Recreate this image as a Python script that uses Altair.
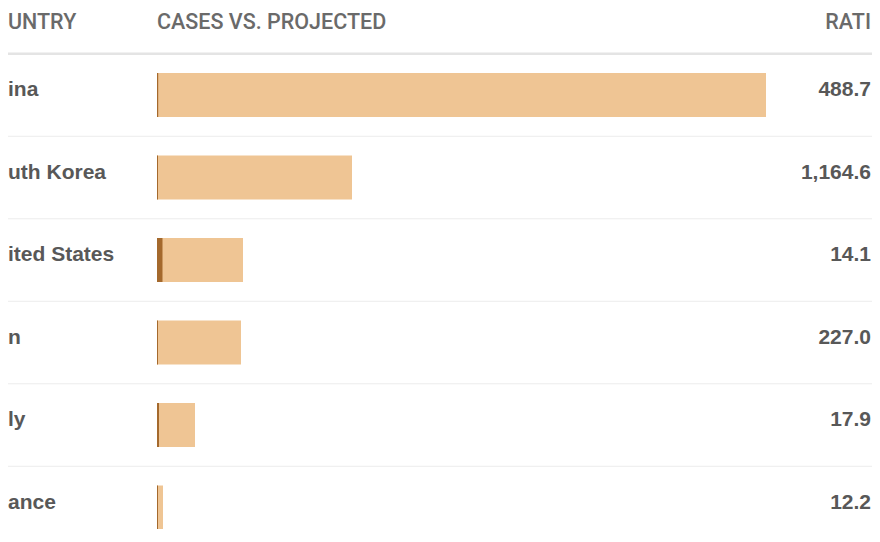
import altair as alt
import pandas as pd

# ---- data (labels exactly as visible in the cropped picture) ----
countries = ["ina", "uth Korea", "ited States", "n", "ly", "ance"]
projected = [609, 195, 86, 84, 38, 6]          # light bar length (relative units)
cases = [1.2, 1.0, 5.5, 1.0, 2.0, 1.0]          # dark bar length (relative units)
ratio_labels = ["488.7", "1,164.6", "14.1", "227.0", "17.9", "12.2"]
headers = ["UNTRY", "CASES VS. PROJECTED", "RATI"]

df = pd.DataFrame({
    "country": countries,
    "projected": projected,
    "cases": cases,
    "ratio": ratio_labels,
})

W, H = 864, 521
ROW = 82.5
TOP = 45.75

y_scale = alt.Scale(domain=countries, range=[TOP, TOP + ROW * len(countries)],
                    paddingInner=0, paddingOuter=0)
x_scale = alt.Scale(domain=[0, 609], range=[149, 758], nice=False, zero=True)

base = alt.Chart(df)

seps = base.mark_rule(color="#ececec", strokeWidth=1).encode(
    y=alt.Y("country:N", scale=y_scale, axis=None, bandPosition=0),
    x=alt.value(0), x2=alt.value(W),
)
head_sep = alt.Chart(df[df.country == countries[0]]).mark_rule(color="#e4e4e4", strokeWidth=2.5).encode(
    y=alt.Y("country:N", scale=y_scale, axis=None, bandPosition=0),
    x=alt.value(0), x2=alt.value(W),
)

bars_proj = base.mark_bar(color="#EFC594", size=44).encode(
    y=alt.Y("country:N", scale=y_scale, axis=None),
    x=alt.X("projected:Q", scale=x_scale, axis=None),
)
bars_cases = base.mark_bar(color="#A4692D", size=44).encode(
    y=alt.Y("country:N", scale=y_scale, axis=None),
    x=alt.X("cases:Q", scale=x_scale, axis=None),
)

names = base.mark_text(align="left", baseline="alphabetic", dy=1, font="Liberation Sans",
                       fontWeight="bold", fontSize=21, color="#585858").encode(
    y=alt.Y("country:N", scale=y_scale, axis=None),
    x=alt.value(0),
    text="country:N",
)
ratios = base.mark_text(align="right", baseline="alphabetic", dy=1, font="Liberation Sans",
                        fontWeight="bold", fontSize=21, color="#585858").encode(
    y=alt.Y("country:N", scale=y_scale, axis=None),
    x=alt.value(W - 1),
    text="ratio:N",
)

hdr_style = dict(baseline="alphabetic", font="Roboto", fontWeight=500, fontSize=21.5, color="#6a6a6a")
hdr_df = pd.DataFrame({"h": headers})
h1 = alt.Chart(hdr_df[hdr_df.h == headers[0]]).mark_text(align="left", **hdr_style).encode(
    x=alt.value(0), y=alt.value(21), text="h:N")
h2 = alt.Chart(hdr_df[hdr_df.h == headers[1]]).mark_text(align="left", **hdr_style).encode(
    x=alt.value(149), y=alt.value(21), text="h:N")
h3 = alt.Chart(hdr_df[hdr_df.h == headers[2]]).mark_text(align="right", **hdr_style).encode(
    x=alt.value(W - 1), y=alt.value(21), text="h:N")

chart = alt.layer(seps, head_sep, bars_proj, bars_cases, names, ratios, h1, h2, h3).properties(
    width=W, height=H, padding=0,
    autosize=alt.AutoSizeParams(type="none"),
    background="white",
).configure_view(stroke=None)

chart.save("out.html", embed_options={"renderer": "svg", "actions": False})
